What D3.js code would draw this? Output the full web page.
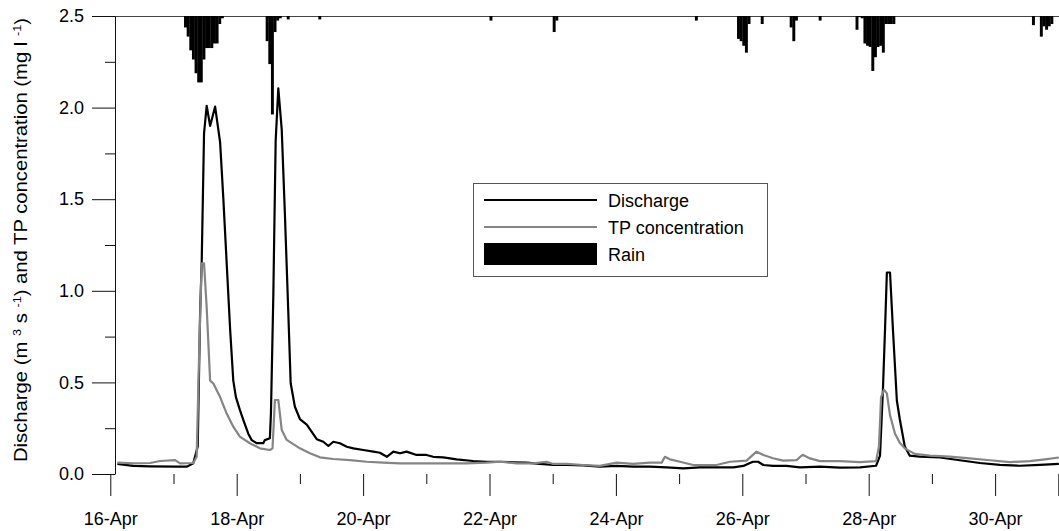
<!DOCTYPE html>
<html>
<head>
<meta charset="utf-8">
<script src="https://cdn.jsdelivr.net/npm/d3@7"></script>
<style>
  body { margin: 0; background: #fff; }
  text { font-family: "Liberation Sans", Arial, Helvetica, sans-serif; fill: #000; }
</style>
</head>
<body>
<svg width="1059" height="531"></svg>
<script>
// times are hours after 16-Apr 00:00
const dischargeHours = [2.7, 8.7, 15.1, 25.2, 29.0, 31.5, 33.2, 34.1, 34.7, 35.6, 36.6, 37.9, 39.8, 41.7, 42.9, 44.2, 45.5, 46.7, 47.7, 49.2, 50.5, 52.4, 53.7, 55.6, 58.1, 58.7, 60.6, 61.0, 61.9, 62.8, 63.8, 65.1, 66.3, 67.6, 68.5, 70.1, 72.0, 74.6, 78.4, 80.9, 82.8, 84.7, 87.2, 89.8, 92.3, 96.1, 99.9, 102.4, 105.0, 107.5, 110.0, 112.5, 116.3, 120.1, 122.6, 126.4, 131.5, 137.8, 142.9, 148.0, 153.0, 158.1, 163.1, 168.2, 173.3, 179.6, 185.9, 192.3, 198.6, 204.9, 211.3, 217.6, 223.9, 230.2, 236.6, 240.4, 242.9, 244.1, 246.0, 248.0, 251.7, 256.8, 261.9, 269.5, 277.1, 284.7, 290.8, 292.3, 293.4, 294.2, 294.9, 296.1, 297.2, 298.7, 299.8, 301.7, 303.6, 307.4, 315.0, 322.6, 330.2, 337.8, 345.4, 353.0, 360.2];
const dischargeValues = [0.055, 0.044, 0.042, 0.040, 0.040, 0.058, 0.15, 0.88, 1.15, 1.86, 2.01, 1.90, 2.005, 1.81, 1.51, 1.15, 0.79, 0.51, 0.42, 0.35, 0.295, 0.22, 0.185, 0.168, 0.168, 0.185, 0.195, 0.33, 0.97, 1.82, 2.105, 1.88, 1.42, 0.88, 0.495, 0.367, 0.30, 0.27, 0.19, 0.176, 0.153, 0.176, 0.168, 0.149, 0.14, 0.131, 0.122, 0.116, 0.094, 0.122, 0.113, 0.122, 0.104, 0.104, 0.094, 0.091, 0.08, 0.071, 0.067, 0.067, 0.064, 0.062, 0.055, 0.049, 0.049, 0.047, 0.04, 0.044, 0.04, 0.04, 0.036, 0.031, 0.036, 0.036, 0.036, 0.044, 0.06, 0.067, 0.067, 0.049, 0.044, 0.044, 0.036, 0.04, 0.035, 0.036, 0.045, 0.10, 0.46, 0.79, 1.10, 1.10, 0.79, 0.40, 0.30, 0.15, 0.10, 0.095, 0.09, 0.075, 0.06, 0.05, 0.045, 0.05, 0.055];

const tpHours = [2.7, 8.7, 15.1, 18.9, 24.6, 26.5, 31.5, 32.8, 33.8, 34.7, 35.6, 36.6, 37.9, 39.1, 41.7, 44.2, 46.7, 49.2, 53.0, 56.8, 60.6, 61.6, 62.5, 63.8, 64.4, 65.1, 67.0, 72.0, 75.8, 79.6, 84.7, 91.0, 97.4, 103.7, 110.0, 122.6, 135.3, 142.9, 148.0, 154.3, 160.6, 165.7, 168.2, 173.3, 179.6, 185.9, 192.3, 198.6, 204.9, 209.4, 210.6, 212.5, 216.3, 221.4, 230.2, 235.3, 241.6, 245.4, 248.0, 251.7, 255.5, 260.6, 262.9, 265.7, 269.5, 277.1, 284.7, 290.8, 291.9, 292.7, 293.8, 294.9, 296.1, 298.0, 299.8, 301.7, 305.5, 311.2, 318.8, 326.4, 334.0, 341.6, 349.2, 354.9, 360.2];
const tpValues = [0.062, 0.058, 0.06, 0.071, 0.076, 0.058, 0.06, 0.094, 0.695, 1.15, 1.15, 0.91, 0.51, 0.495, 0.42, 0.33, 0.258, 0.204, 0.168, 0.14, 0.131, 0.14, 0.404, 0.404, 0.33, 0.24, 0.186, 0.14, 0.113, 0.091, 0.082, 0.076, 0.067, 0.062, 0.058, 0.058, 0.058, 0.062, 0.067, 0.058, 0.058, 0.067, 0.055, 0.055, 0.049, 0.044, 0.062, 0.055, 0.062, 0.062, 0.094, 0.08, 0.067, 0.049, 0.049, 0.067, 0.073, 0.122, 0.104, 0.086, 0.073, 0.076, 0.105, 0.085, 0.07, 0.07, 0.065, 0.07, 0.15, 0.42, 0.46, 0.44, 0.32, 0.22, 0.17, 0.14, 0.11, 0.10, 0.095, 0.085, 0.075, 0.065, 0.07, 0.08, 0.09];

// hourly rain (mm), bar starts at the given hour
const rainHours = [28, 29, 30, 31, 32, 33, 34, 35, 36, 37, 38, 39, 40, 41, 42, 59, 60, 61, 62, 63, 64, 67, 79, 144, 168, 169, 222, 238, 239, 240, 241, 242, 247, 258, 259, 260, 269, 283, 284, 285, 286, 287, 288, 289, 290, 291, 292, 293, 294, 295, 296, 297, 350, 353, 354, 355, 356, 357];
const rainMm = [0.5, 0.9, 1.5, 1.9, 2.5, 2.9, 2.9, 1.9, 1.4, 1.4, 1.4, 1.2, 1.2, 0.35, 0.1, 1.1, 2.1, 4.3, 0.7, 0.2, 0.1, 0.15, 0.15, 0.2, 0.7, 0.2, 0.2, 1.0, 1.1, 1.3, 1.6, 0.35, 0.35, 0.5, 1.1, 0.2, 0.2, 0.6, 0.05, 0.1, 1.2, 1.3, 1.35, 2.4, 1.8, 1.35, 1.3, 1.6, 0.35, 0.35, 0.35, 0.35, 0.4, 0.9, 0.45, 0.6, 0.45, 0.35];

const yMajorTicks = [0, 0.5, 1.0, 1.5, 2.0, 2.5];
const yMinorTicks = [0.25, 0.75, 1.25, 1.75, 2.25];
const xMajorDays = [16, 18, 20, 22, 24, 26, 28, 30, 31];
const xMinorDays = [17, 19, 21, 23, 25, 27, 29];
const xTickLabels = ["16-Apr", "18-Apr", "20-Apr", "22-Apr", "24-Apr", "26-Apr", "28-Apr", "30-Apr", ""];
const legendLabels = ["Discharge", "TP concentration", "Rain"];

const start = new Date(2001, 3, 16);
const toDate = h => new Date(start.getTime() + h * 3600e3);
const dayDate = d => new Date(2001, 3, d);

const svg = d3.select("svg");

const x = d3.scaleTime()
  .domain([dayDate(16), dayDate(31)])
  .range([110.3, 1058.3]);
const y = d3.scaleLinear().domain([0, 2.5]).range([474, 16]);
// rain hangs from the top edge
const yRain = d3.scaleLinear().domain([0, 20]).range([16, 474]);

// top edge line
svg.append("line")
  .attr("x1", 115).attr("x2", 1059)
  .attr("y1", 16.5).attr("y2", 16.5)
  .attr("stroke", "#444").attr("stroke-width", 1);

// rain bars
svg.append("g").attr("id", "rainG")
  .selectAll("rect")
  .data(rainHours.map((h, i) => ({h: h, v: rainMm[i]})))
  .join("rect")
  .attr("x", d => x(toDate(d.h)))
  .attr("width", d => x(toDate(d.h + 1)) - x(toDate(d.h)) + 0.3)
  .attr("y", yRain(0))
  .attr("height", d => yRain(d.v) - yRain(0))
  .attr("fill", "#000");

// lines
const line = d3.line()
  .x(d => x(toDate(d.h)))
  .y(d => y(d.v));

svg.append("path")
  .datum(dischargeHours.map((h, i) => ({h: h, v: dischargeValues[i]})))
  .attr("d", line)
  .attr("fill", "none")
  .attr("stroke", "#000")
  .attr("stroke-width", 2.2)
  .attr("stroke-linejoin", "round");

svg.append("path")
  .datum(tpHours.map((h, i) => ({h: h, v: tpValues[i]})))
  .attr("d", line)
  .attr("fill", "none")
  .attr("stroke", "#858585")
  .attr("stroke-width", 2.2)
  .attr("stroke-linejoin", "round");

// y axis
const yAxisG = svg.append("g")
  .attr("transform", "translate(115, 0)")
  .call(d3.axisLeft(y).tickValues(yMajorTicks).tickFormat(d3.format(".1f"))
    .tickSize(23).tickSizeOuter(0).tickPadding(8));
svg.append("g")
  .attr("transform", "translate(115, 0)")
  .call(d3.axisLeft(y).tickValues(yMinorTicks).tickFormat("")
    .tickSize(10).tickSizeOuter(0))
  .select(".domain").remove();
yAxisG.selectAll("text")
  .style("font-size", "18px")
  .attr("font-family", null);

// x axis, ticks hang below the plot, no baseline
const xAxisG = svg.append("g")
  .attr("transform", "translate(0, 474)")
  .call(d3.axisBottom(x).tickValues(xMajorDays.map(dayDate))
    .tickFormat((d, i) => xTickLabels[i]).tickSize(22).tickSizeOuter(0));
xAxisG.select(".domain").remove();
xAxisG.selectAll("text")
  .attr("y", 38.5)
  .style("font-size", "18px")
  .attr("font-family", null);
svg.append("g")
  .attr("transform", "translate(0, 474)")
  .call(d3.axisBottom(x).tickValues(xMinorDays.map(dayDate)).tickFormat("")
    .tickSize(10).tickSizeOuter(0))
  .select(".domain").remove();

svg.selectAll(".tick line").attr("stroke", "#111");
svg.selectAll(".domain").attr("stroke", "#111");

// y title with superscripts
const title = svg.append("text")
  .attr("transform", "translate(27, 240) rotate(-90)")
  .attr("text-anchor", "middle")
  .attr("textLength", 444)
  .attr("lengthAdjust", "spacingAndGlyphs")
  .style("font-size", "17.5px");
title.append("tspan").text("Discharge (m ");
title.append("tspan").text("3").attr("dy", -6).style("font-size", "11px");
title.append("tspan").text(" s ").attr("dy", 6);
title.append("tspan").text("-1").attr("dy", -6).style("font-size", "11px");
title.append("tspan").text(") and TP concentration (mg l ").attr("dy", 6);
title.append("tspan").text("-1").attr("dy", -6).style("font-size", "11px");
title.append("tspan").text(")").attr("dy", 6);

// legend
const legend = svg.append("g").attr("id", "legendG");
legend.append("rect")
  .attr("x", 473.5).attr("y", 183.5)
  .attr("width", 294).attr("height", 93)
  .attr("fill", "#fff").attr("stroke", "#555");

const legendRows = legend.selectAll("g")
  .data(legendLabels)
  .join("g")
  .attr("transform", (d, i) => "translate(0, " + (200 + i * 27) + ")");

legendRows.each(function(d, i) {
  const row = d3.select(this);
  if (i < 2) {
    row.append("line")
      .attr("x1", 484).attr("x2", 597)
      .attr("stroke", i === 0 ? "#000" : "#858585")
      .attr("stroke-width", 2.2);
  } else {
    row.append("rect")
      .attr("x", 484).attr("y", -11)
      .attr("width", 113).attr("height", 22)
      .attr("fill", "#000");
  }
  row.append("text")
    .attr("x", 608).attr("y", 6.5)
    .style("font-size", "18px")
    .text(d);
});
</script>
</body>
</html>
